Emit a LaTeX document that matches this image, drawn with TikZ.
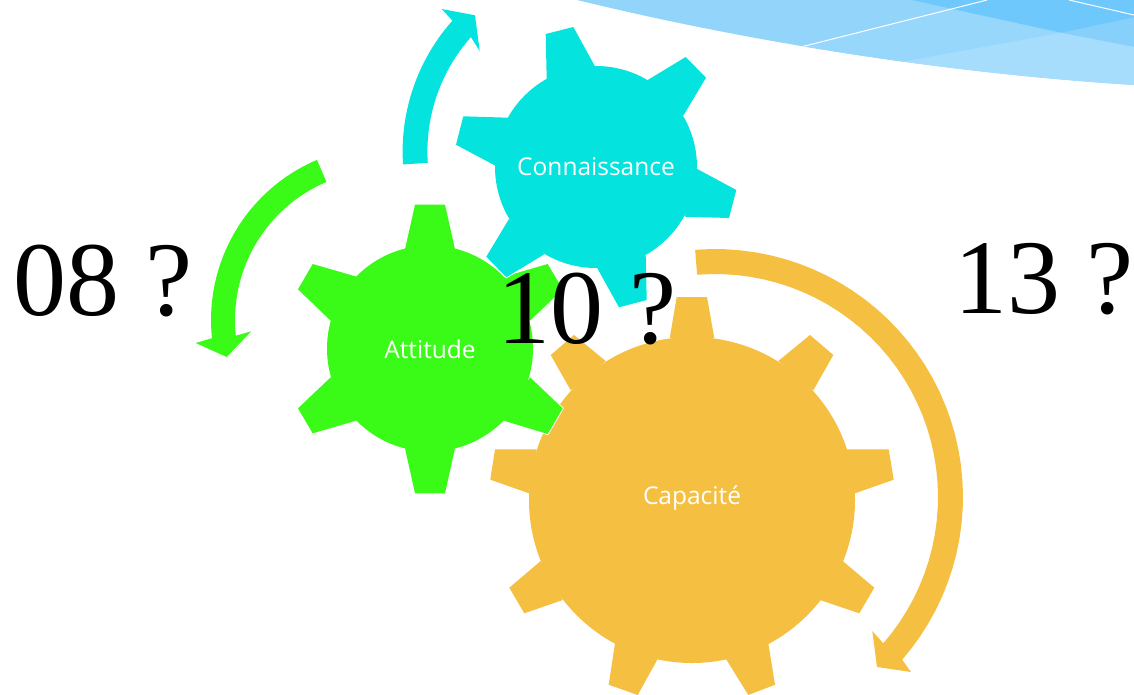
\documentclass[tikz,border=0pt]{standalone}
\usepackage{fontspec}
\setmainfont{Liberation Serif}
\newfontfamily\labelfont{Open Sans}
\definecolor{cyanG}{HTML}{05E3DE}
\definecolor{greenG}{HTML}{39FB17}
\definecolor{orangeG}{HTML}{F5C041}
\definecolor{bandA}{HTML}{93D4FB}
\definecolor{bandB}{HTML}{97D7FC}
\definecolor{bandC}{HTML}{A6DDFD}
\definecolor{bandD}{HTML}{6FC8FB}
\definecolor{bandE}{HTML}{87D0FC}
\tikzset{
  gearlabel/.style={text=white,font=\labelfont\fontsize{24.5}{28}\selectfont,inner sep=0pt},
  bigtext/.style={text=black,font=\fontsize{106}{110}\selectfont,inner sep=0pt,anchor=base west},
}
% #1 colour, #2 cx, #3 cy, #4 r, #5 teeth path
\newcommand{\gearfill}[5]{%
  \draw[white,line width=2pt,line join=round] (#2,#3) circle[radius=#4] #5;
  \fill[#1] #5;
  \fill[#1] (#2,#3) circle[radius=#4];
}
% #1 colour, #2 cx, #3 cy, #4 outer r, #5 inner r, #6 start, #7 end, #8 head
\newcommand{\ringarrow}[8]{%
  \fill[#1] plot[domain=#6:#7,samples=40] ({#2+#4*cos(\x)},{#3-#4*sin(\x)})
    -- #8 -- plot[domain=#7:#6,samples=40] ({#2+#5*cos(\x)},{#3-#5*sin(\x)}) -- cycle;
}
\begin{document}
\begin{tikzpicture}[x=1pt,y=-1pt]
\useasboundingbox (0,0) rectangle (1134,694);
% band
\begin{scope}
\clip (0,0) rectangle (1134,694);
\fill[bandA] (577,0) .. controls (700,30) and (900,70) .. (1134,85) -- (1134,0) -- cycle;
\begin{scope}
\clip (577,0) .. controls (700,30) and (900,70) .. (1134,85) -- (1134,0) -- cycle;
\fill[bandB] (802,46.7) -- (987,0) -- (911.7,0) -- (1061,32.7) -- (902.7,62.3) -- (850,70) -- cycle;
\fill[bandC] (880,66) -- (1061,32.7) -- (1134,46.7) -- (1134,90) -- cycle;
\fill[bandE] (1061,32.7) -- (1134,17.3) -- (1134,46.7) -- cycle;
\fill[bandD] (911.7,0) -- (1061,32.7) -- (1134,17.3) -- (1134,0) -- cycle;
\draw[white,line width=1pt] (802,46.7) -- (987,0);
\draw[white,line width=1pt] (1069,0) -- (1134,15);
\end{scope}
\end{scope}
% orange gear
\gearfill{orangeG}{692}{500}{163}{
 (669.7,338.3)--(676.7,297)--(707,297)--(714.3,338.3)--cycle
 (778.3,361)--(810,335)--(833.3,355)--(813.3,390.3)--cycle
 (846.7,449.3)--(888.7,449.3)--(893.7,479.7)--(855,493.3)--cycle
 (842.7,561)--(874.3,587.7)--(859.3,613.3)--(820,600)--cycle
 (768.3,643.3)--(775,684.7)--(748.3,695)--(726,659)--cycle
 (657.7,659)--(637.7,695)--(608.7,684.7)--(615,643.3)--cycle
 (562.7,600)--(524.3,613.3)--(509.3,587.7)--(540.7,561)--cycle
 (529,493.3)--(490.3,479.7)--(495,449.3)--(536.7,449.3)--cycle
 (570.7,390.3)--(550.7,355)--(574,335)--(605.7,361)--cycle}
% green gear
\gearfill{greenG}{430}{348.5}{103}{
 (405,249.3)--(415,204.7)--(445,204.7)--(455,249.3)--cycle
 (504,276.7)--(547.7,264)--(562.7,289.3)--(530,320.7)--cycle
 (530,377.3)--(562.7,408.3)--(547.7,434)--(504,420.7)--cycle
 (455,448.3)--(445,493.3)--(415,493.3)--(405,448.3)--cycle
 (356,420.7)--(312.7,433.3)--(298,408.3)--(330.7,377.3)--cycle
 (330.7,320.7)--(298,289.3)--(312.7,264)--(356.7,276.7)--cycle}
% cyan gear
\gearfill{cyanG}{596}{167}{101}{
 (546.7,79.3)--(545.7,34)--(573.3,27)--(594.7,65.7)--cycle
 (647.7,80)--(685.7,57)--(706,77.7)--(683.3,115.7)--cycle
 (697.3,169)--(736.3,190)--(729,218)--(684.7,216.7)--cycle
 (645.7,255)--(646.7,300)--(619,307.3)--(597.3,268.3)--cycle
 (544.3,254.3)--(506.3,277.3)--(486.3,256.7)--(509,219)--cycle
 (495.3,165.7)--(456,144.7)--(463.3,116.3)--(508.3,117.7)--cycle}
% arrows
\ringarrow{cyanG}{600}{151.7}{197.4}{172.6}{183.7}{138.4}{(441.7,9) -- (475,15.3) -- (479.7,51)}
\ringarrow{greenG}{385}{320}{174}{150}{113}{186}{(195.7,343) -- (226.7,357) -- (251.3,331.3)}
\ringarrow{orangeG}{715}{497}{248}{223}{94.6}{-41}{(911,672) -- (877,667) -- (872.3,631)}
% labels
\node[gearlabel] (connaissance) at (596,167) {Connaissance};
\node[gearlabel] (attitude) at (430,349) {Attitude};
\node[gearlabel] (capacite) at (692,498) {Capacité};
\node[bigtext] (a) at (13,315) {08 ?};
\node[bigtext] (b) at (497,343) {10 ?};
\node[bigtext] (c) at (954,313) {13 ?};
\end{tikzpicture}
\end{document}
